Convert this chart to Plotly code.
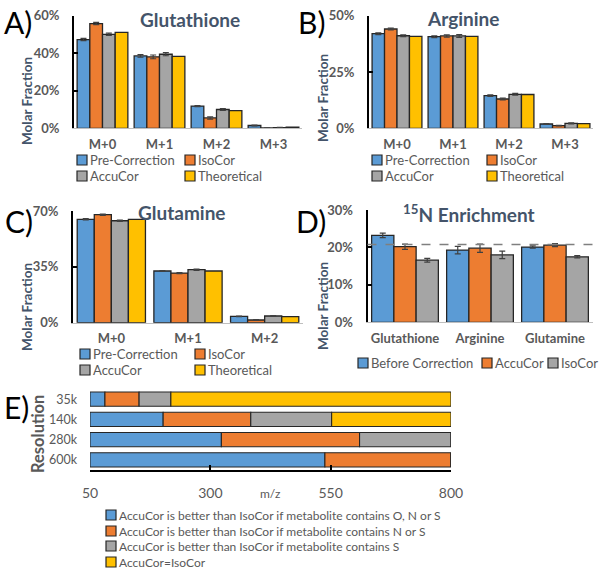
import plotly.graph_objects as go

W, H = 604, 573

# ---------------- data ----------------
colors4 = ["#5B9BD5", "#ED7D31", "#A5A5A5", "#FFC000"]
outline = "#262626"

series_abc = ["Pre-Correction", "IsoCor", "AccuCor", "Theoretical"]

# A) Glutathione
iso_A = ["M+0", "M+1", "M+2", "M+3"]
glut_pre = [47.2, 38.5, 11.8, 1.5]
glut_iso = [55.7, 38.0, 5.5, 0.2]
glut_accu = [50.0, 39.4, 10.0, 0.4]
glut_theo = [51.0, 38.3, 9.4, 0.6]
glut_err_pre = [0.6, 0.7, 0.3, 0.2]
glut_err_iso = [0.6, 1.0, 0.6, 0.1]
glut_err_accu = [0.6, 0.8, 0.5, 0.1]
ticks_A = [0, 20, 40, 60]

# B) Arginine
iso_B = ["M+0", "M+1", "M+2", "M+3"]
arg_pre = [42.0, 40.7, 14.5, 1.9]
arg_iso = [44.1, 41.0, 13.0, 1.2]
arg_accu = [41.1, 41.0, 15.1, 2.2]
arg_theo = [40.8, 40.8, 15.0, 2.1]
arg_err_pre = [0.4, 0.4, 0.3, 0.2]
arg_err_iso = [0.4, 0.5, 0.4, 0.1]
arg_err_accu = [0.4, 0.6, 0.4, 0.2]
ticks_B = [0, 25, 50]

# C) Glutamine
iso_C = ["M+0", "M+1", "M+2"]
gln_pre = [64.8, 32.4, 4.0]
gln_iso = [67.7, 31.1, 1.7]
gln_accu = [63.9, 33.2, 4.2]
gln_theo = [64.8, 32.4, 3.8]
gln_err_pre = [0.4, 0.3, 0.2]
gln_err_iso = [0.4, 0.3, 0.2]
gln_err_accu = [0.4, 0.4, 0.3]
ticks_C = [0, 35, 70]

# D) 15N enrichment
series_D = ["Before Correction", "AccuCor", "IsoCor"]
colors_D = ["#5B9BD5", "#ED7D31", "#A5A5A5"]
metabolites_D = ["Glutathione", "Arginine", "Glutamine"]
enr_before = [23.2, 19.3, 20.1]
enr_accu = [20.2, 19.8, 20.6]
enr_iso = [16.6, 18.0, 17.5]
enr_err_before = [0.6, 1.0, 0.3]
enr_err_accu = [0.7, 1.1, 0.4]
enr_err_iso = [0.5, 1.0, 0.3]
theoretical_enrichment = 20.8
ticks_D = [0, 10, 20, 30]

# E) resolution vs m/z
resolutions = ["35k", "140k", "280k", "600k"]
series_E = [
    "AccuCor is better than IsoCor if metabolite contains O, N or S",
    "AccuCor is better than IsoCor if metabolite contains N or S",
    "AccuCor is better than IsoCor if metabolite contains S",
    "AccuCor=IsoCor",
]
mz_start = 50
end_ONS = [81, 202, 323, 538]
end_NS = [152, 384, 610, 800]
end_S = [218, 552, 800, 800]
end_equal = [800, 800, 800, 800]
mz_ticks = [50, 300, 550, 800]

# ---------------- figure ----------------
fig = go.Figure()

err_style = dict(type="data", color="#404040", thickness=1.2, width=3)


def add_group(xcats, values_list, errs_list, names, cols, xa, ya):
    for vals, errs, name, col in zip(values_list, errs_list, names, cols):
        kw = {}
        if errs is not None:
            kw["error_y"] = dict(array=errs, **err_style)
        fig.add_trace(go.Bar(
            x=xcats, y=vals, name=name, showlegend=False,
            marker=dict(color=col, line=dict(color=outline, width=1.3)),
            xaxis=xa, yaxis=ya, **kw))


add_group(iso_A, [glut_pre, glut_iso, glut_accu, glut_theo],
          [glut_err_pre, glut_err_iso, glut_err_accu, None], series_abc, colors4, "x", "y")
add_group(iso_B, [arg_pre, arg_iso, arg_accu, arg_theo],
          [arg_err_pre, arg_err_iso, arg_err_accu, None], series_abc, colors4, "x2", "y2")
add_group(iso_C, [gln_pre, gln_iso, gln_accu, gln_theo],
          [gln_err_pre, gln_err_iso, gln_err_accu, None], series_abc, colors4, "x3", "y3")
add_group(metabolites_D, [enr_before, enr_accu, enr_iso],
          [enr_err_before, enr_err_accu, enr_err_iso], series_D, colors_D, "x4", "y4")

# E: segments from boundaries
ends = [end_ONS, end_NS, end_S, end_equal]
prev = [mz_start] * len(resolutions)
for name, col, end in zip(series_E, colors4, ends):
    fig.add_trace(go.Bar(
        y=resolutions, x=[e - p for e, p in zip(end, prev)], base=prev,
        orientation="h", name=name, showlegend=False, offsetgroup="E", width=0.7,
        marker=dict(color=col, line=dict(color=outline, width=1.1)),
        xaxis="x5", yaxis="y5"))
    prev = list(end)

# ---------------- layout ----------------
def px_x(p):
    return p / W


def px_y(p):
    return 1 - p / H


tick_gray = "#595959"
title_col = "#44546A"
FONT = "Lato"

xcat_common = dict(showline=True, linecolor="#bfbfbf", linewidth=1, ticks="",
                   showgrid=False, zeroline=False, automargin=False,
                   tickfont=dict(family=FONT, size=13, color=tick_gray, weight="bold"),
                   ticklabelstandoff=4)
y_common = dict(showline=True, linecolor="black", linewidth=2, ticks="inside",
                ticklen=4, tickcolor="black", tickwidth=1.5, showgrid=False, zeroline=False,
                automargin=False,
                tickfont=dict(family=FONT, size=13, color=tick_gray, weight="bold"),
                ticklabelstandoff=10)


def pct(vals):
    return dict(tickvals=vals, ticktext=[f"{v}%" for v in vals], range=[0, vals[-1]])


fig.update_layout(
    width=W, height=H, margin=dict(l=0, r=0, t=0, b=0, autoexpand=False),
    paper_bgcolor="white", plot_bgcolor="white",
    barmode="group", bargap=0.11, bargroupgap=0,
    font=dict(family=FONT, color=tick_gray),
    showlegend=False,
    xaxis=dict(domain=[px_x(74), px_x(302)], anchor="y", range=[-0.5, 3.5], **xcat_common),
    yaxis=dict(domain=[px_y(128.3), px_y(15.5)], anchor="x", **pct(ticks_A), **y_common),
    xaxis2=dict(domain=[px_x(369), px_x(593)], anchor="y2", range=[-0.5, 3.5], **xcat_common),
    yaxis2=dict(domain=[px_y(128.3), px_y(15.7)], anchor="x2", **pct(ticks_B), **y_common),
    xaxis3=dict(domain=[px_x(73), px_x(303)], anchor="y3", range=[-0.5, 2.5], **xcat_common),
    yaxis3=dict(domain=[px_y(322.7), px_y(211)], anchor="x3", **pct(ticks_C), **y_common),
    xaxis4=dict(domain=[px_x(367.5), px_x(592.5)], anchor="y4", range=[-0.5, 2.5], **xcat_common),
    yaxis4=dict(domain=[px_y(322.3), px_y(210)], anchor="x4", **pct(ticks_D), **y_common),
    xaxis5=dict(domain=[px_x(90), px_x(451)], anchor="y5", range=[50, 800],
                tickvals=mz_ticks, showline=True, linecolor="black", linewidth=1.5,
                ticks="inside", ticklen=5, tickcolor="black", tickwidth=1.5,
                showgrid=False, zeroline=False, automargin=False,
                tickfont=dict(family=FONT, size=14, color=tick_gray),
                ticklabelstandoff=9),
    yaxis5=dict(domain=[px_y(470), px_y(389)], anchor="x5", autorange="reversed",
                showline=False, ticks="", showgrid=False, zeroline=False, automargin=False,
                tickfont=dict(family=FONT, size=12.5, color=tick_gray),
                ticklabelstandoff=12),
)

# dashed reference line in D
fig.add_shape(type="line", xref="x4 domain", yref="y4", x0=0, x1=1,
              y0=theoretical_enrichment, y1=theoretical_enrichment,
              line=dict(color="#7f7f7f", width=1.5, dash="dash"))

ann = []


def text(xp, yp, t, size, color="black", bold=False, angle=0, xanchor="center", yanchor="middle"):
    ann.append(dict(x=px_x(xp), y=px_y(yp), xref="paper", yref="paper", text=t,
                    showarrow=False, textangle=angle, xanchor=xanchor, yanchor=yanchor,
                    borderpad=0,
                    font=dict(family=FONT, size=size, color=color,
                              weight="bold" if bold else "normal")))


# panel titles
text(190, 19, "Glutathione", 19, title_col, True)
text(463, 18, "Arginine", 19, title_col, True)
text(182, 212, "Glutamine", 19, title_col, True)
text(469, 213, "<sup>15</sup>N Enrichment", 19, title_col, True)

# y titles
for xp, yp in [(27, 101), (323, 98), (27, 307), (323, 306)]:
    text(xp, yp, "Molar Fraction", 13.5, title_col, True, angle=-90)
text(38, 434, "Resolution", 16.5, tick_gray, True, angle=-90)
text(270, 493, "m/z", 12, tick_gray)

# panel letters
for xp, yp, t in [(18, 22, "A)"), (311, 22, "B)"), (19, 221, "C)"), (311, 221, "D)"), (16, 407, "E)")]:
    text(xp, yp, t, 30, "black")

# manual legends
shapes = []


def legend_item(xp, yp, col, label, size=13):
    shapes.append(dict(type="rect", xref="paper", yref="paper",
                       x0=px_x(xp), x1=px_x(xp + 10), y0=px_y(yp + 5), y1=px_y(yp - 5),
                       fillcolor=col, line=dict(color=outline, width=1.2)))
    text(xp + 12, yp, label, size, tick_gray, xanchor="left")


def legend_2x2(x1, x2, y1, y2):
    pos = [(x1, y1), (x2, y1), (x1, y2), (x2, y2)]
    for (xp, yp), col, lab in zip(pos, colors4, series_abc):
        legend_item(xp, yp, col, lab)


legend_2x2(77, 185, 160, 176)
legend_2x2(372, 487, 160, 176)
legend_2x2(80, 195, 354, 370)
for xp, col, lab in zip([358, 482, 548], colors_D, series_D):
    legend_item(xp, 363, col, lab)
for yp, col, lab in zip([515, 531, 546, 562], colors4, series_E):
    legend_item(106, yp, col, lab, size=12)

for s in shapes:
    fig.add_shape(**s)
fig.update_layout(annotations=ann)

fig.write_html("out.html", config={"displayModeBar": False},
               post_script="document.body.style.margin='0';document.body.style.overflow='hidden';")
